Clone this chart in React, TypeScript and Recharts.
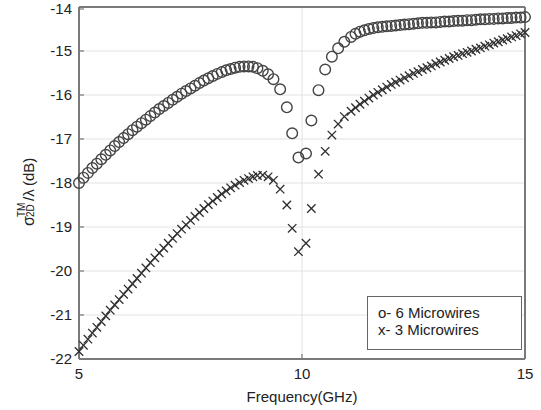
import React from 'react';
import {
  ScatterChart,
  Scatter,
  XAxis,
  YAxis,
  CartesianGrid,
  Legend,
} from 'recharts';

// frequency grid (GHz), shared by both curves
const freqs = [
  5.0, 5.1, 5.2, 5.3, 5.4, 5.5, 5.6, 5.7, 5.8, 5.9,
  6.0, 6.1, 6.2, 6.3, 6.4, 6.5, 6.6, 6.7, 6.8, 6.9,
  7.0, 7.1, 7.2, 7.3, 7.4, 7.5, 7.6, 7.7, 7.8, 7.9,
  8.0, 8.1, 8.2, 8.3, 8.4, 8.5, 8.6, 8.7, 8.8, 8.9,
  9.0,
  9.12, 9.24, 9.36, 9.51, 9.66, 9.78, 9.92, 10.09, 10.21, 10.37, 10.52, 10.67, 10.81, 10.95,
  11.1,
  11.2, 11.3, 11.4, 11.5, 11.6, 11.7, 11.8, 11.9, 12.0, 12.1,
  12.2, 12.3, 12.4, 12.5, 12.6, 12.7, 12.8, 12.9, 13.0, 13.1,
  13.2, 13.3, 13.4, 13.5, 13.6, 13.7, 13.8, 13.9, 14.0, 14.1,
  14.2, 14.3, 14.4, 14.5, 14.6, 14.7, 14.8, 14.9, 15.0,
];

const sixWires = [
  -18.00, -17.88, -17.77, -17.66, -17.56, -17.46, -17.36, -17.26, -17.16, -17.07,
  -16.98, -16.89, -16.80, -16.72, -16.64, -16.56, -16.48, -16.40, -16.32, -16.25,
  -16.18, -16.11, -16.04, -15.97, -15.91, -15.85, -15.79, -15.73, -15.67, -15.62,
  -15.57, -15.52, -15.48, -15.44, -15.41, -15.38, -15.36, -15.35, -15.35, -15.36,
  -15.39,
  -15.45, -15.53, -15.64, -15.87, -16.28, -16.87, -17.42, -17.33, -16.58, -15.89, -15.42, -15.13, -14.94, -14.79,
  -14.68,
  -14.61, -14.56, -14.53, -14.50, -14.48, -14.46, -14.45, -14.44, -14.43, -14.42,
  -14.41, -14.40, -14.39, -14.38, -14.37, -14.36, -14.36, -14.35, -14.35, -14.34,
  -14.33, -14.33, -14.32, -14.31, -14.31, -14.30, -14.30, -14.29, -14.28, -14.28,
  -14.27, -14.27, -14.26, -14.26, -14.25, -14.25, -14.24, -14.24, -14.23,
];

const threeWires = [
  -21.83, -21.69, -21.55, -21.41, -21.28, -21.15, -21.02, -20.89, -20.77, -20.65,
  -20.53, -20.41, -20.29, -20.17, -20.05, -19.93, -19.81, -19.70, -19.59, -19.48,
  -19.37, -19.26, -19.15, -19.05, -18.95, -18.85, -18.76, -18.67, -18.58, -18.49,
  -18.41, -18.33, -18.25, -18.18, -18.11, -18.05, -17.99, -17.94, -17.90, -17.86,
  -17.83,
  -17.82, -17.86, -17.94, -18.14, -18.50, -19.03, -19.56, -19.37, -18.58, -17.80, -17.28, -16.91, -16.66, -16.49,
  -16.37,
  -16.29, -16.21, -16.14, -16.07, -16.00, -15.94, -15.88, -15.82, -15.76, -15.71,
  -15.66, -15.61, -15.56, -15.51, -15.47, -15.42, -15.38, -15.34, -15.29, -15.25,
  -15.21, -15.17, -15.13, -15.10, -15.06, -15.03, -15.00, -14.96, -14.93, -14.89,
  -14.86, -14.82, -14.79, -14.75, -14.72, -14.68, -14.65, -14.61, -14.58,
];

const xTicks = [5, 10, 15];
const yTicks = [-22, -21, -20, -19, -18, -17, -16, -15, -14];
const seriesNames = ['o- 6 Microwires', 'x- 3 Microwires'];

const FONT = '"Liberation Sans", Arial, sans-serif';
const INK = '#222';
const AXIS = '#7a7a7a';

const sixData = freqs.map((f, i) => ({ f, v: sixWires[i] }));
const threeData = freqs.map((f, i) => ({ f, v: threeWires[i] }));

const CircleMark = (props: any) => {
  const { cx, cy } = props;
  if (cx == null || cy == null) return null;
  return <circle cx={cx} cy={cy} r={5.3} fill="none" stroke="#444" strokeWidth={1.4} />;
};

const CrossMark = (props: any) => {
  const { cx, cy } = props;
  if (cx == null || cy == null) return null;
  const s = 4.2;
  return (
    <g stroke="#2e2e2e" strokeWidth={1.3}>
      <line x1={cx - s} y1={cy - s} x2={cx + s} y2={cy + s} />
      <line x1={cx - s} y1={cy + s} x2={cx + s} y2={cy - s} />
    </g>
  );
};

// ticks drawn inward, matlab style
const LeftTick = ({ x, y, payload }: any) => (
  <g>
    <line x1={x + 7} y1={y} x2={x + 12} y2={y} stroke={AXIS} strokeWidth={1.2} />
    <text x={x} y={y} dy={5} textAnchor="end" fontSize={15} fill={INK} fontFamily={FONT}>
      {payload.value}
    </text>
  </g>
);

const RightTick = ({ x, y }: any) => (
  <line x1={x - 5} y1={y} x2={x} y2={y} stroke={AXIS} strokeWidth={1.2} />
);

const BottomTick = ({ x, y, payload }: any) => (
  <g>
    <line x1={x} y1={y - 8} x2={x} y2={y - 13} stroke={AXIS} strokeWidth={1.2} />
    <text x={x} y={y} dy={12} textAnchor="middle" fontSize={15} fill={INK} fontFamily={FONT}>
      {payload.value}
    </text>
  </g>
);

const TopTick = ({ x, y }: any) => (
  <line x1={x} y1={y} x2={x} y2={y + 5} stroke={AXIS} strokeWidth={1.2} />
);

const YLabel = () => (
  <g transform="translate(34,185) rotate(-90)" fill={INK} fontFamily={FONT}>
    <text x={-41} y={0} fontSize={16}>σ</text>
    <text x={-32} y={-9} fontSize={10}>TM</text>
    <text x={-32} y={0} fontSize={10}>2D</text>
    <text x={-16} y={0} fontSize={15}>/λ</text>
    <text x={-1} y={0} fontSize={15}>(dB)</text>
  </g>
);

const LegendBox = ({ payload }: any) => (
  <div
    style={{
      width: 153,
      height: 52,
      border: '1.5px solid #666',
      background: '#fff',
      boxSizing: 'content-box',
      fontFamily: FONT,
      fontSize: 15,
      color: INK,
    }}
  >
    <div style={{ paddingLeft: 10, paddingTop: 7, lineHeight: '17px' }}>
      {(payload || []).map((p: any) => (
        <div key={p.value}>{p.value}</div>
      ))}
    </div>
  </div>
);

export default function App() {
  return (
    <div style={{ position: 'absolute', left: 0, top: 0, width: 541, height: 410, background: '#fff' }}>
      <ScatterChart width={541} height={410} margin={{ top: 6, right: 6, bottom: 0, left: 9 }}>
        <CartesianGrid stroke="#e2e2e2" strokeWidth={1} />
        <XAxis
          xAxisId={0}
          dataKey="f"
          type="number"
          domain={[5, 15]}
          ticks={xTicks}
          height={51}
          tickSize={0}
          tickMargin={8}
          tick={<BottomTick />}
          axisLine={{ stroke: AXIS, strokeWidth: 2 }}
          label={{ value: 'Frequency(GHz)', position: 'insideBottom', offset: 8, fontSize: 15, fill: INK, fontFamily: FONT }}
        />
        <XAxis
          xAxisId="top"
          orientation="top"
          type="number"
          domain={[5, 15]}
          ticks={xTicks}
          height={1}
          tickSize={0}
          tickMargin={0}
          tick={<TopTick />}
          axisLine={{ stroke: AXIS, strokeWidth: 2 }}
        />
        <YAxis
          yAxisId={0}
          dataKey="v"
          type="number"
          domain={[-22, -14]}
          ticks={yTicks}
          width={70}
          tickSize={0}
          tickMargin={7}
          tick={<LeftTick />}
          axisLine={{ stroke: AXIS, strokeWidth: 2 }}
          label={<YLabel />}
        />
        <YAxis
          yAxisId="right"
          orientation="right"
          type="number"
          domain={[-22, -14]}
          ticks={yTicks}
          width={10}
          tickSize={0}
          tickMargin={0}
          tick={<RightTick />}
          axisLine={{ stroke: AXIS, strokeWidth: 2 }}
        />
        <Legend
          layout="vertical"
          align="center"
          verticalAlign="middle"
          content={<LegendBox />}
          wrapperStyle={{ left: 367, top: 296, width: 156, height: 55 }}
        />
        <Scatter
          name={seriesNames[0]}
          data={sixData}
          shape={<CircleMark />}
          isAnimationActive={false}
          legendType="circle"
        />
        <Scatter
          name={seriesNames[1]}
          data={threeData}
          shape={<CrossMark />}
          isAnimationActive={false}
          legendType="cross"
        />
      </ScatterChart>
    </div>
  );
}
